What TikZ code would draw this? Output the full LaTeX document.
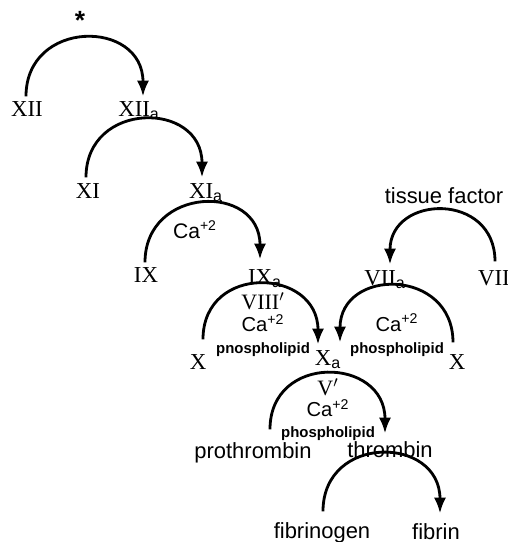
\documentclass[tikz,border=0pt]{standalone}
\usepackage{fontspec}
\setmainfont{Liberation Serif}
\setsansfont{Liberation Sans}
\usetikzlibrary{arrows.meta, calc}

\tikzset{
  factor/.style={font=\fontsize{13}{15}\selectfont, inner sep=1pt, text height=9pt, text depth=3pt},
  word/.style={factor, font=\sffamily\fontsize{12.5}{15}\selectfont},
  cofactor/.style={font=\sffamily\fontsize{12}{14}\selectfont, inner sep=1pt},
  stack/.style={align=center, inner sep=0pt, font=\sffamily\fontsize{11.5}{12.6}\selectfont},
  flow/.style={line width=1.6pt, -{Latex[length=9pt,width=7pt]}, out=90, in=90, looseness=1.7}
}
\newcommand{\act}[1]{#1\textsubscript{\sffamily a}}
\newcommand{\lipid}[1]{{\bfseries\fontsize{8.5}{10}\selectfont #1}}
\newcommand{\rmnum}[1]{{\rmfamily\fontsize{12.5}{10}\selectfont #1}}

\begin{document}
\begin{tikzpicture}[x=0.02cm, y=-0.02cm]
    \useasboundingbox (0,0) rectangle (508,542);
    % intrinsic cascade
    \node[word, font=\sffamily\bfseries\fontsize{15}{15}\selectfont] (star) at (80,24) {*};
    \node[factor] (XII) at (27,111) {XII};
    \node[factor] (XIIa) at (139,111) {\act{XII}};
    \node[factor] (XI) at (88,193) {XI};
    \node[factor] (XIa) at (206,193) {\act{XI}};
    \node[cofactor] (ca1) at (195,230) {Ca\textsuperscript{+2}};
    \node[factor] (IX) at (146,277) {IX};
    \node[factor] (IXa) at (265,279) {\act{IX}};
    % extrinsic side
    \node[word] (tf) at (444,198) {tissue factor};
    \node[factor] (VII) at (494,280) {VII};
    \node[factor] (VIIa) at (385,280) {\act{VII}};
    % X activation
    \node[stack] (tenase) at (263,325) {\rmnum{VIII$'$}\\ Ca\textsuperscript{+2}\\ \lipid{pnospholipid}};
    \node[stack] (extr) at (397,335) {Ca\textsuperscript{+2}\\ \lipid{phospholipid}};
    \node[factor] (Xl) at (198,364) {X};
    \node[factor] (Xa) at (328,360) {\act{X}};
    \node[factor] (Xr) at (457,364) {X};
    % common pathway
    \node[stack, font=\sffamily\fontsize{11.5}{12}\selectfont] (prothr) at (328,410) {\rmnum{V$'$}\\ Ca\textsuperscript{+2}\\ \lipid{phospholipid}};
    \node[word] (pro) at (253,453) {prothrombin};
    \node[word] (thr) at (390,452) {thrombin};
    \node[word] (fgn) at (322,533) {fibrinogen};
    \node[word] (fbn) at (436,534) {fibrin};

    \draw[flow] ($(XII.north)+(-1,-2)$) to ($(XIIa.north)+(4,-2)$);
    \draw[flow] ($(XI.north)+(-2,-3)$) to ($(XIa.north)+(-4,-3)$);
    \draw[flow] ($(IX.north)+(-1,-2)$) to ($(IXa.north)+(-5,-7)$);
    \draw[flow] ($(VII.north)+(1,-6)$) to ($(VIIa.north)+(5,-3)$);
    \draw[flow] ($(Xl.north)+(5,-12)$) to ($(Xa.north)+(-10,-3)$);
    \draw[flow] ($(Xr.north)+(-4,-9)$) to ($(Xa.north)+(12,-5)$);
    \draw[flow] ($(pro.north)+(17,-11)$) to ($(thr.north)+(-5,-6)$);
    \draw[flow] ($(fgn.north)+(1,-9)$) to ($(fbn.north)+(4,-8)$);
\end{tikzpicture}
\end{document}
